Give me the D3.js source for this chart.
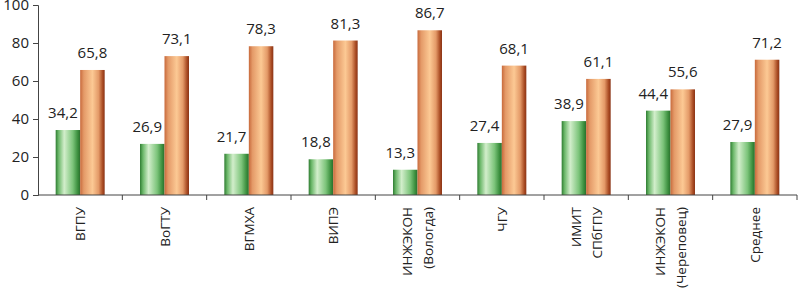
<!DOCTYPE html>
<html>
<head>
<meta charset="utf-8">
<script src="https://cdn.jsdelivr.net/npm/d3@7"></script>
<style>
  body { margin: 0; background: #fff; }
  text { font-family: "Open Sans", "Liberation Sans", sans-serif; fill: #222; }
</style>
</head>
<body>
<div id="chart"></div>
<script>
// Chart data
const categories = ["ВГПУ", "ВоГТУ", "ВГМХА", "ВИПЭ", "ИНЖЭКОН\n(Вологда)", "ЧГУ", "ИМИТ\nСПбГПУ", "ИНЖЭКОН\n(Череповец)", "Среднее"];
const seriesA = [34.2, 26.9, 21.7, 18.8, 13.3, 27.4, 38.9, 44.4, 27.9];
const seriesB = [65.8, 73.1, 78.3, 81.3, 86.7, 68.1, 61.1, 55.6, 71.2];
const yTicks = [0, 20, 40, 60, 80, 100];

const W = 799, H = 297;
const margin = { top: 5, right: 2, bottom: 102, left: 38 },
      width = W - margin.left - margin.right,
      height = H - margin.top - margin.bottom;

const svg = d3.select("#chart")
              .append("svg")
              .attr("width", W)
              .attr("height", H);

// Gradients for the cylinder-like bars
const defs = svg.append("defs");
const gradA = defs.append("linearGradient").attr("id", "gA");
[[0, "#2f7d32"], [0.12, "#6cb86a"], [0.35, "#d2eecb"], [0.7, "#7cc47a"], [0.9, "#3b8f3e"], [1, "#2a6e2c"]]
  .forEach(([o, c]) => gradA.append("stop").attr("offset", o).attr("stop-color", c));
const gradB = defs.append("linearGradient").attr("id", "gB");
[[0, "#c86a3c"], [0.15, "#e49a68"], [0.5, "#fcc994"], [0.75, "#e49a68"], [0.92, "#a84a22"], [1, "#8a3416"]]
  .forEach(([o, c]) => gradB.append("stop").attr("offset", o).attr("stop-color", c));

const g = svg.append("g").attr("transform", `translate(${margin.left},${margin.top})`);

const x = d3.scaleBand().domain(categories).range([0, width]).paddingInner(0).paddingOuter(0);
const inner = d3.scaleBand().domain(["a", "b"]).range([0, 49]);
const barOffset = (x.bandwidth() - 49) / 2;
const y = d3.scaleLinear().domain([0, 100]).range([height, 0]);

// Y axis
const yAxis = g.append("g")
  .call(d3.axisLeft(y).tickValues(yTicks).tickSize(5).tickPadding(4));
yAxis.select(".domain").attr("stroke", "#444");
yAxis.selectAll(".tick line").attr("stroke", "#444");
yAxis.selectAll("text").style("font-size", "15px").attr("fill", "#222");

// Bars
const groups = g.selectAll(".grp")
  .data(categories)
  .join("g")
  .attr("transform", d => `translate(${x(d) + barOffset},0)`);

groups.append("rect")
  .attr("x", inner("a"))
  .attr("y", (d, i) => y(seriesA[i]))
  .attr("width", inner.bandwidth())
  .attr("height", (d, i) => height - y(seriesA[i]))
  .attr("fill", "url(#gA)");

groups.append("rect")
  .attr("x", inner("b"))
  .attr("y", (d, i) => y(seriesB[i]))
  .attr("width", inner.bandwidth())
  .attr("height", (d, i) => height - y(seriesB[i]))
  .attr("fill", "url(#gB)");

// Value labels
const fmt = v => v.toFixed(1).replace(".", ",");
groups.append("text")
  .attr("x", inner("a") + inner.bandwidth() / 2 - 5)
  .attr("y", (d, i) => y(seriesA[i]) - 12)
  .attr("text-anchor", "middle")
  .style("font-size", "15px")
  .text((d, i) => fmt(seriesA[i]));

groups.append("text")
  .attr("x", inner("b") + inner.bandwidth() / 2)
  .attr("y", (d, i) => y(seriesB[i]) - 12)
  .attr("text-anchor", "middle")
  .style("font-size", "15px")
  .text((d, i) => fmt(seriesB[i]));

// X axis with ticks at band boundaries
const xAxisG = g.append("g").attr("transform", `translate(0,${height})`);
xAxisG.append("line")
  .attr("x1", 0).attr("x2", width)
  .attr("stroke", "#444");
xAxisG.selectAll(".xt")
  .data(categories)
  .join("line")
  .attr("x1", d => x(d) + x.bandwidth())
  .attr("x2", d => x(d) + x.bandwidth())
  .attr("y1", 0).attr("y2", 5)
  .attr("stroke", "#444");

// Rotated category labels
const labels = xAxisG.selectAll(".xl")
  .data(categories)
  .join("text")
  .attr("transform", d => `translate(${x(d) + x.bandwidth() / 2},12) rotate(-90)`)
  .attr("text-anchor", "end")
  .style("font-size", "13.5px");

labels.each(function(d) {
  const lines = d.split("\n");
  const t = d3.select(this);
  const n = lines.length;
  lines.forEach((ln, k) => {
    t.append("tspan")
      .attr("x", 0)
      .attr("y", (k - (n - 1) / 2) * 21 + 5)
      .text(ln);
  });
});
</script>
</body>
</html>
